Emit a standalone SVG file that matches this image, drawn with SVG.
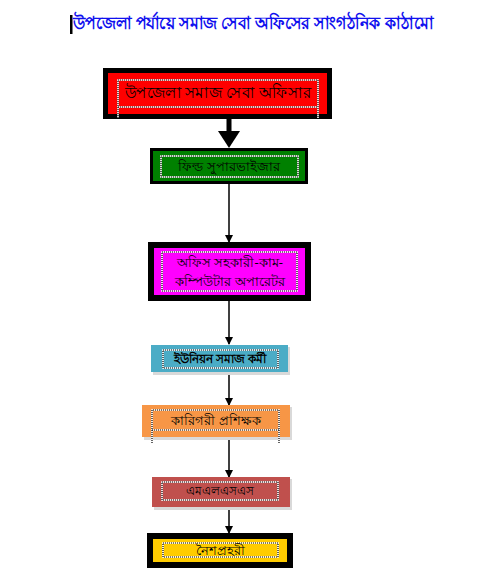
<svg xmlns="http://www.w3.org/2000/svg" width="500" height="583" viewBox="0 0 500 583">
<style>
.t{font-family:"Noto Sans","DejaVu Sans",sans-serif;fill:#000;text-anchor:middle}
.fw{fill:none;stroke:#fff;stroke-width:1.6}
.fd{fill:none;stroke:#000;stroke-width:1.2;stroke-dasharray:1 1}
.ln{stroke:#000;stroke-width:1.5;fill:none}
.sh{fill:#d9d9d9}
</style>
<defs>
<marker id="ah" markerWidth="8" markerHeight="8" refX="7" refY="4" orient="auto" markerUnits="userSpaceOnUse">
<path d="M0,0 L8,4 L0,8 Z" fill="#000"/>
</marker>
</defs>
<rect width="500" height="583" fill="#fff"/>
<g id="title">
<rect x="70" y="15" width="2.5" height="19" fill="#000"/>
<text x="73" y="29" style="font-family:'Noto Sans','DejaVu Sans',sans-serif;font-size:18px;font-weight:bold;fill:#1010ee" textLength="360" lengthAdjust="spacingAndGlyphs">উপজেলা পর্যায়ে  সমাজ সেবা  অফিসের সাংগঠনিক কাঠামো</text>
</g>
<g id="connectors">
<rect x="226.5" y="119" width="5" height="13" fill="#000"/>
<path d="M218,131 L240,131 L229,148 Z" fill="#000"/>
<line class="ln" x1="229" y1="184" x2="229" y2="242" marker-end="url(#ah)"/>
<line class="ln" x1="229" y1="301" x2="229" y2="344" marker-end="url(#ah)"/>
<line class="ln" x1="229" y1="372" x2="229" y2="405" marker-end="url(#ah)"/>
<line class="ln" x1="229" y1="437" x2="229" y2="477" marker-end="url(#ah)"/>
<line class="ln" x1="229" y1="507" x2="229" y2="533" marker-end="url(#ah)"/>
</g>
<g id="n1">
<rect x="103" y="68" width="229" height="51" fill="#000"/>
<rect x="108" y="73" width="219" height="41" fill="#ff0000"/>
<path class="fw" d="M118,118 V80 H318 V118 M118,107 H318"/>
<path class="fd" d="M118,118 V80 H318 V118 M118,107 H318"/>
<text class="t" x="218" y="98" font-size="16" textLength="186" lengthAdjust="spacingAndGlyphs">উপজেলা সমাজ সেবা অফিসার</text>
</g>
<g id="n2">
<rect x="150" y="148" width="158" height="36" fill="#000"/>
<rect x="153" y="151" width="152" height="30" fill="#008000"/>
<rect class="fw" x="161" y="156" width="137" height="21"/>
<rect class="fd" x="161" y="156" width="137" height="21"/>
<text class="t" x="229" y="171" font-size="13">ফিল্ড সুপারভাইজার</text>
</g>
<g id="n3">
<rect x="148" y="242" width="163" height="59" fill="#000"/>
<rect x="154" y="248" width="151" height="47" fill="#ff00ff"/>
<rect class="fw" x="162" y="252" width="135" height="39"/>
<rect class="fd" x="162" y="252" width="135" height="39"/>
<text class="t" x="230" y="267" font-size="13">অফিস সহকারী-কাম-</text>
<text class="t" x="230" y="286" font-size="13">কম্পিউটার  অপারেটর</text>
</g>
<g id="n4">
<rect class="sh" x="153" y="347" width="137" height="28"/>
<rect x="151" y="345" width="137" height="27" fill="#4bacc6"/>
<rect class="fw" x="163" y="350" width="115" height="18"/>
<rect class="fd" x="163" y="350" width="115" height="18"/>
<text class="t" x="220" y="363" font-size="12" font-weight="bold">ইউনিয়ন সমাজ কর্মী</text>
</g>
<g id="n5">
<rect class="sh" x="144" y="407" width="148" height="33"/>
<rect x="142" y="405" width="148" height="32" fill="#f79646"/>
<path class="fw" d="M152,443 V410 H279 V443 M152,430 H279"/>
<path class="fd" d="M152,443 V410 H279 V443 M152,430 H279"/>
<text class="t" x="216" y="425" font-size="13">কারিগরী প্রশিক্ষক</text>
</g>
<g id="n6">
<rect class="sh" x="154" y="479" width="138" height="31"/>
<rect x="152" y="477" width="138" height="30" fill="#c0504d"/>
<rect class="fw" x="162" y="482" width="116" height="18"/>
<rect class="fd" x="162" y="482" width="116" height="18"/>
<text class="t" x="220" y="495" font-size="12">এমএলএসএস</text>
</g>
<g id="n7">
<rect x="147" y="533" width="146" height="35" fill="#000"/>
<rect x="153" y="539" width="134" height="23" fill="#ffcc00"/>
<rect class="fw" x="163" y="543" width="115" height="14"/>
<rect class="fd" x="163" y="543" width="115" height="14"/>
<text class="t" x="220" y="555" font-size="13">নৈশপ্রহরী</text>
</g>
</svg>
